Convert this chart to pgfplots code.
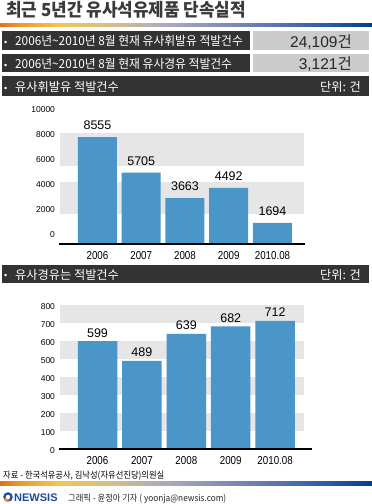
\documentclass[border=0pt]{standalone}
\usepackage{fontspec}
\usepackage{pgfplots}
\pgfplotsset{compat=1.18}
\setmainfont{Liberation Sans}
\newfontfamily\kr{Noto Sans CJK KR}
\newfontfamily\krrow[FakeStretch=0.95]{Noto Sans CJK KR}
\newfontfamily\krtitle[FakeStretch=0.94]{Noto Sans CJK KR}
\newfontfamily\krs[FakeStretch=0.92]{Noto Sans CJK KR}
\newfontfamily\num{Liberation Sans}
\newfontfamily\numn[FakeStretch=0.85]{Liberation Sans}
\definecolor{barblue}{HTML}{4A96C8}
\definecolor{band}{HTML}{E6E6E6}
\definecolor{darkbox}{HTML}{333333}
\definecolor{lightbox}{HTML}{CCCCCC}
\definecolor{titlegray}{HTML}{3A3A3A}
\definecolor{newsisblue}{HTML}{1C4C9C}
\definecolor{newsisorange}{HTML}{F08A20}
\definecolor{cA}{HTML}{E07020}
\definecolor{cB}{HTML}{EC9A2C}
\definecolor{cC}{HTML}{F2C650}
\definecolor{cD}{HTML}{D0BC90}
\definecolor{cE}{HTML}{A8A8C0}
\definecolor{cF}{HTML}{7080B4}
\definecolor{cG}{HTML}{2A5AA0}
\definecolor{cH}{HTML}{00408C}
\pgfdeclarehorizontalshading{ribbon}{100bp}{color(0bp)=(cA); color(25bp)=(cA); color(27.7bp)=(cB); color(33bp)=(cC); color(41bp)=(cD); color(47.8bp)=(cE); color(58.6bp)=(cF); color(69.4bp)=(cG); color(75bp)=(cH); color(100bp)=(cH)}

\pgfplotstableread{
x y
0 8555
1 5705
2 3663
3 4492
4 1694
}\gasoline
\pgfplotstableread{
x y
0 599
1 489
2 639
3 682
4 712
}\diesel

\begin{document}
\begin{tikzpicture}
\path[use as bounding box, fill=white] (0pt,0pt) rectangle (372pt,-504pt);
% title
\node[anchor=base west, inner sep=0pt, text=titlegray, font=\krtitle\bfseries\fontsize{18}{21}\selectfont] at (6pt,-16pt) {최근 5년간 유사석유제품 단속실적};
\shade[shading=ribbon] (0pt,-23.5pt) rectangle (372pt,-26.5pt);
% summary rows
\fill[darkbox] (2pt,-31pt) rectangle (250pt,-50pt);
\fill[lightbox] (253pt,-31pt) rectangle (369pt,-50pt);
\fill[darkbox] (2pt,-54pt) rectangle (250pt,-72pt);
\fill[lightbox] (253pt,-54pt) rectangle (369pt,-72pt);
\fill[darkbox] (2pt,-76pt) rectangle (369pt,-96pt);
\fill[darkbox] (2pt,-265pt) rectangle (369pt,-283pt);
\foreach \yy in {45,68,91,278.5}{
  \node[anchor=base west, inner sep=0pt, text=white, font=\num\fontsize{9}{10}\selectfont] at (4pt,-\yy pt) {•};
}
\node[anchor=base west, inner sep=0pt, text=white, font=\krrow\fontsize{12.4}{14}\selectfont] at (15pt,-45.5pt) {2006년\textasciitilde 2010년 8월 현재 유사휘발유 적발건수};
\node[anchor=base west, inner sep=0pt, text=white, font=\krrow\fontsize{12.4}{14}\selectfont] at (15pt,-68.5pt) {2006년\textasciitilde 2010년 8월 현재 유사경유 적발건수};
\node[anchor=base east, inner sep=0pt, text=black!85, font=\num\fontsize{15.5}{17}\selectfont] at (352pt,-47pt) {24,109{\kr 건}};
\node[anchor=base east, inner sep=0pt, text=black!85, font=\num\fontsize{15.5}{17}\selectfont] at (352pt,-69.5pt) {3,121{\kr 건}};
\node[anchor=base west, inner sep=0pt, text=white, font=\kr\fontsize{12.2}{14}\selectfont] at (15pt,-91.5pt) {유사휘발유 적발건수};
\node[anchor=base east, inner sep=0pt, text=white, font=\kr\fontsize{12.2}{14}\selectfont] at (361pt,-91.5pt) {단위: 건};
\node[anchor=base west, inner sep=0pt, text=white, font=\kr\fontsize{12.2}{14}\selectfont] at (15pt,-279pt) {유사경유는 적발건수};
\node[anchor=base east, inner sep=0pt, text=white, font=\kr\fontsize{12.2}{14}\selectfont] at (361pt,-279pt) {단위: 건};

% chart 1
\begin{axis}[at={(59pt,-244pt)}, anchor=south west, scale only axis,
  width=246pt, height=125pt, xmin=-0.88, xmax=4.743, ymin=0, ymax=10000,
  ybar, bar width=39pt, bar shift=0pt,
  axis line style={draw=none}, tick style={draw=none},
  xtick={0,1,2,3,4}, xticklabels={2006,2007,2008,2009,2010.08},
  ytick={0,2000,4000,6000,8000,10000},
  scaled ticks=false,
  /pgf/number format/assume math mode=true,
  /pgf/number format/1000 sep={},
  yticklabel style={font=\num\fontsize{8.5}{10}\selectfont, yshift=9pt, xshift=-0.5pt},
  xticklabel style={font=\numn\fontsize{11.5}{13}\selectfont},
  nodes near coords,
  every node near coord/.append style={font=\num\fontsize{12.5}{14}\selectfont, yshift=4pt, text=black},
  clip=false]
\fill[band] (axis cs:-0.86,2400) rectangle (axis cs:4.72,4960);
\fill[band] (axis cs:-0.86,6240) rectangle (axis cs:4.72,8880);
\addplot[fill=barblue, draw=none] table[x=x,y=y]{\gasoline};
\draw[line width=1.2pt] (axis cs:-0.88,0) -- (axis cs:4.743,0);
\end{axis}

% chart 2
\begin{axis}[at={(59pt,-449pt)}, anchor=south west, scale only axis,
  width=253pt, height=144pt, xmin=-0.867, xmax=4.83, ymin=0, ymax=800,
  ybar, bar width=39.5pt, bar shift=0pt,
  axis line style={draw=none}, tick style={draw=none},
  xtick={0,1,2,3,4}, xticklabels={2006,2007,2008,2009,2010.08},
  ytick={0,100,...,800},
  scaled ticks=false,
  /pgf/number format/assume math mode=true,
  /pgf/number format/1000 sep={},
  yticklabel style={font=\num\fontsize{8.5}{10}\selectfont, yshift=-1.5pt, xshift=-0.5pt},
  xticklabel style={font=\numn\fontsize{11.5}{13}\selectfont},
  nodes near coords,
  every node near coord/.append style={font=\num\fontsize{12.5}{14}\selectfont, yshift=0.5pt, text=black},
  clip=false]
\fill[band] (axis cs:-0.845,100) rectangle (axis cs:4.65,200);
\fill[band] (axis cs:-0.845,300) rectangle (axis cs:4.65,400);
\fill[band] (axis cs:-0.845,500) rectangle (axis cs:4.65,600);
\fill[band] (axis cs:-0.845,700) rectangle (axis cs:4.65,800);
\addplot[fill=barblue, draw=none] table[x=x,y=y]{\diesel};
\draw[line width=1.2pt] (axis cs:-0.867,0) -- (axis cs:4.83,0);
\end{axis}

% source and footer
\node[anchor=base west, inner sep=0pt, text=black, font=\krs\fontsize{9}{10}\selectfont] at (3pt,-478.5pt) {자료 - 한국석유공사, 김낙성(자유선진당)의원실};
\shade[shading=ribbon] (0pt,-481.5pt) rectangle (372pt,-485.5pt);
\draw[newsisblue, line width=2.2pt] (8pt,-497pt) circle (3.6pt);
\draw[newsisorange, line width=2.2pt] (8pt,-497pt) ++(200:3.6pt) arc (200:290:3.6pt);
\node[anchor=base west, inner sep=0pt, text=newsisblue, font=\num\bfseries\fontsize{11}{12}\selectfont] at (14pt,-501.5pt) {NEWSIS};
\node[anchor=base west, inner sep=0pt, text=black!85, font=\krs\fontsize{9}{10}\selectfont] at (68pt,-501pt) {그래픽 - 윤정아 기자 ( yoonja@newsis.com)};
\end{tikzpicture}
\end{document}
